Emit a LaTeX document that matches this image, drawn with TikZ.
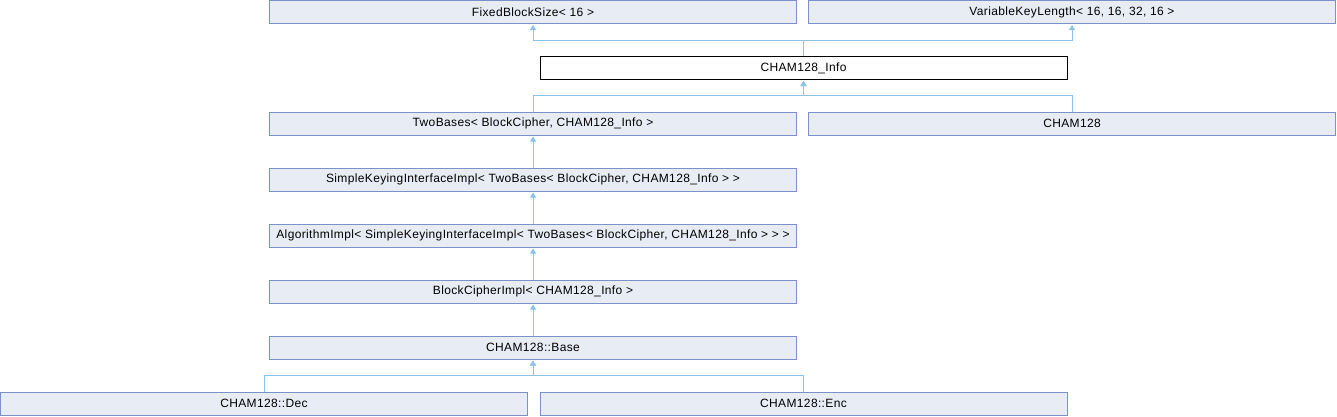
\documentclass[tikz,border=0pt]{standalone}
\usepackage{fontspec}
\setmainfont{Liberation Sans}
\newfontfamily\clsfont[LetterSpace=3.0]{Liberation Sans}
\usepackage{tikz}
\usetikzlibrary{arrows.meta, positioning}

\definecolor{boxfill}{HTML}{E8ECF5}
\definecolor{boxline}{HTML}{7A92C7}
\definecolor{edgeblue}{HTML}{8DC3E6}

\tikzset{
    cls/.style={draw=boxline, fill=boxfill, line width=1pt, minimum width=527pt, minimum height=23pt, inner sep=0pt, font=\clsfont\fontsize{12}{13}\selectfont},
    cur/.style={cls, draw=black, fill=white},
    inh/.style={draw=edgeblue, line width=1pt, -{Triangle[width=6pt,length=5pt]}, shorten >=1pt}
}

\begin{document}
\begin{tikzpicture}[x=1pt,y=-1pt]
        \useasboundingbox (0,0) rectangle (1337,416);
        % classes
        \node[cls] (fbs) at (533,12) {FixedBlockSize< 16 >};
        \node[cls] (vkl) at (1072,12) {VariableKeyLength< 16, 16, 32, 16 >};
        \node[cur] (info) at (803.5,68) {CHAM128\_Info};
        \node[cls] (twob) at (533,123.5) {TwoBases< BlockCipher, CHAM128\_Info >};
        \node[cls] (cham) at (1072,123.5) {CHAM128};
        \node[cls] (ski) at (533,179.5) {SimpleKeyingInterfaceImpl< TwoBases< BlockCipher, CHAM128\_Info > >};
        \node[cls] (algo) at (533,235.5) {AlgorithmImpl< SimpleKeyingInterfaceImpl< TwoBases< BlockCipher, CHAM128\_Info > > >};
        \node[cls] (bci) at (533,291.5) {BlockCipherImpl< CHAM128\_Info >};
        \node[cls] (base) at (533,347.5) {CHAM128::Base};
        \node[cls] (dec) at (264,403.5) {CHAM128::Dec};
        \node[cls] (enc) at (803.5,403.5) {CHAM128::Enc};
        % inheritance
        \draw[inh] (info.north) -- ++(0,-16) -| (fbs.south);
        \draw[inh] (info.north) -- ++(0,-16) -| (vkl.south);
        \draw[inh] (twob.north) -- ++(0,-16) -| (info.south);
        \draw[inh] (cham.north) -- ++(0,-16) -| (info.south);
        \draw[inh] (ski) -- (twob);
        \draw[inh] (algo) -- (ski);
        \draw[inh] (bci) -- (algo);
        \draw[inh] (base) -- (bci);
        \draw[inh] (dec.north) -- ++(0,-16) -| (base.south);
        \draw[inh] (enc.north) -- ++(0,-16) -| (base.south);
    \end{tikzpicture}
\end{document}
